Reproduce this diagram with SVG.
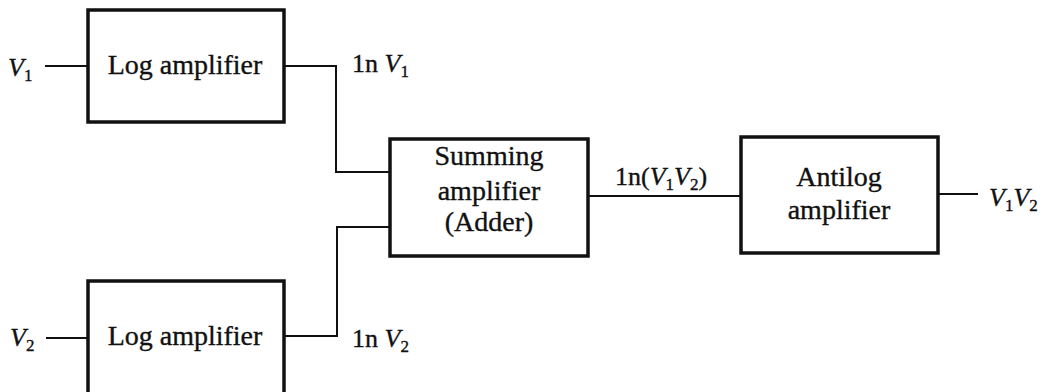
<svg xmlns="http://www.w3.org/2000/svg" width="1047" height="392" viewBox="0 0 1047 392">
<style>
.box{fill:#fff;stroke:#111;stroke-width:3.5}
.wire{fill:none;stroke:#111;stroke-width:2}
text{font-family:"Liberation Serif","Times New Roman",serif;fill:#111;stroke:#111;stroke-width:0.35}
.t{font-size:28px;text-anchor:middle}
.l{font-size:26px}
.v{font-style:italic}
.s{font-size:17px;font-style:normal}
</style>
<rect width="1047" height="392" fill="#fff"/>
<g id="connectors">
<path class="wire" d="M45 66H88"/>
<path class="wire" d="M284 66H336V172H390"/>
<path class="wire" d="M46 338H88"/>
<path class="wire" d="M284 336H337V227H390"/>
<path class="wire" d="M588 196H741"/>
<path class="wire" d="M938 194H978"/>
</g>
<g id="log1">
<rect class="box" x="88" y="10" width="196" height="112"/>
<text class="t" x="185" y="74">Log amplifier</text>
</g>
<g id="log2">
<rect class="box" x="88" y="281" width="196" height="120"/>
<text class="t" x="185" y="345">Log amplifier</text>
</g>
<g id="sum">
<rect class="box" x="390" y="139" width="198" height="117"/>
<text class="t" x="489" y="165">Summing</text>
<text class="t" x="489" y="200">amplifier</text>
<text class="t" x="489" y="231">(Adder)</text>
</g>
<g id="antilog">
<rect class="box" x="741" y="137" width="197" height="116"/>
<text class="t" x="839" y="186">Antilog</text>
<text class="t" x="839" y="219">amplifier</text>
</g>
<g id="labels">
<text class="l v" x="8" y="76">V<tspan class="s" dy="5">1</tspan></text>
<text class="l v" x="10" y="346">V<tspan class="s" dy="5">2</tspan></text>
<text class="l" x="352" y="72">1n <tspan class="v">V</tspan><tspan class="s" dy="5">1</tspan></text>
<text class="l" x="352" y="347">1n <tspan class="v">V</tspan><tspan class="s" dy="5">2</tspan></text>
<text class="l" x="615" y="185">1n(<tspan class="v">V</tspan><tspan class="s" dy="5">1</tspan><tspan class="v" dy="-5">V</tspan><tspan class="s" dy="5">2</tspan><tspan dy="-5">)</tspan></text>
<text class="l v" x="989" y="206">V<tspan class="s" dy="5">1</tspan><tspan dy="-5">V</tspan><tspan class="s" dy="5">2</tspan></text>
</g>
</svg>
